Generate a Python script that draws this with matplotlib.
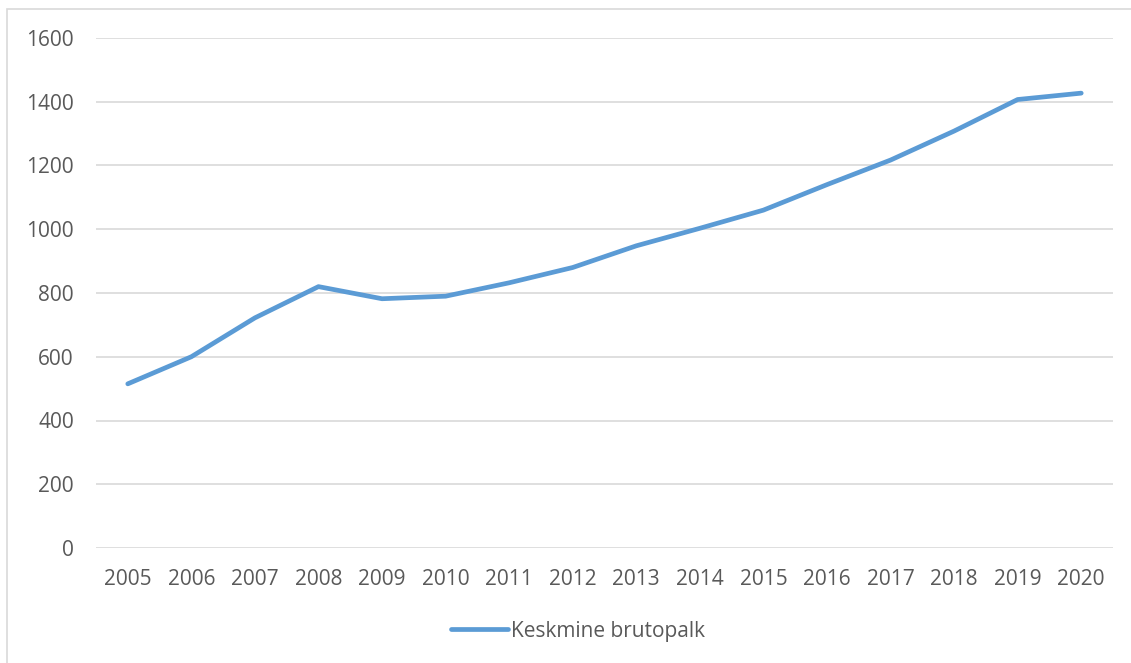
import matplotlib
matplotlib.use("Agg")
import matplotlib.pyplot as plt
from matplotlib.patches import Rectangle
from matplotlib.lines import Line2D

years = ["2005", "2006", "2007", "2008", "2009", "2010", "2011", "2012",
         "2013", "2014", "2015", "2016", "2017", "2018", "2019", "2020"]
wage = [515, 600, 722, 820, 782, 790, 832, 880,
        948, 1003, 1060, 1140, 1217, 1308, 1407, 1427]
y_ticks = [0, 200, 400, 600, 800, 1000, 1200, 1400, 1600]
series_name = "Keskmine brutopalk"

W, H = 1131, 663
fig = plt.figure(figsize=(W / 100, H / 100), dpi=100)
fig.patch.set_facecolor("white")
plt.rcParams["font.family"] = ["Open Sans", "DejaVu Sans"]

# chart-area border
fig.patches.append(Rectangle((7 / W, -0.01), 1.02 - 7 / W, 1 - 9 / H + 0.01,
                             transform=fig.transFigure, fill=False,
                             edgecolor="#d9d9d9", linewidth=1.2))

left, right = 96 / W, 1113 / W
bottom, top = 1 - 548 / H, 1 - 38 / H
ax = fig.add_axes([left, bottom, right - left, top - bottom])
x = list(range(len(years)))
ax.plot(x, wage, color="#5b9bd5", linewidth=3.4, solid_capstyle="round",
        solid_joinstyle="round", zorder=3)

ax.set_xlim(-0.5, len(years) - 0.5)
ax.set_ylim(0, 1600)
ax.set_yticks(y_ticks)
ax.set_xticks(x)
ax.set_xticklabels(years)
ax.grid(axis="y", color="#d9d9d9", linewidth=1.2)
ax.set_axisbelow(True)
for s in ax.spines.values():
    s.set_visible(False)
ax.tick_params(axis="both", length=0, labelsize=15, colors="#595959")
ax.tick_params(axis="x", pad=15)
ax.tick_params(axis="y", pad=16)

handle = Line2D([], [], color="#5b9bd5", linewidth=3.4, solid_capstyle="round")
fig.legend([handle], [series_name], loc="center", bbox_to_anchor=(578 / W, 1 - 631 / H),
           frameon=False, fontsize=15, labelcolor="#595959",
           handlelength=2.7, handletextpad=0.15)

fig.savefig("out.png", dpi=100, facecolor="white")
